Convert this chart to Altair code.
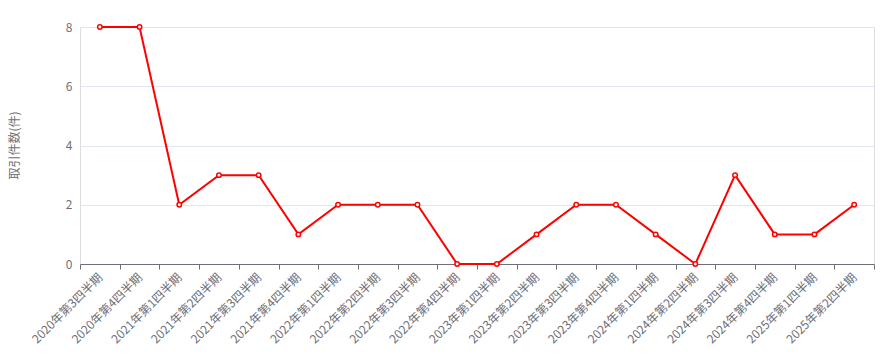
import altair as alt
import pandas as pd

quarters = [
    "2020年第3四半期", "2020年第4四半期",
    "2021年第1四半期", "2021年第2四半期", "2021年第3四半期", "2021年第4四半期",
    "2022年第1四半期", "2022年第2四半期", "2022年第3四半期", "2022年第4四半期",
    "2023年第1四半期", "2023年第2四半期", "2023年第3四半期", "2023年第4四半期",
    "2024年第1四半期", "2024年第2四半期", "2024年第3四半期", "2024年第4四半期",
    "2025年第1四半期", "2025年第2四半期",
]
counts = [8, 8, 2, 3, 3, 1, 2, 2, 2, 0, 0, 1, 2, 2, 1, 0, 3, 1, 1, 2]

df = pd.DataFrame({"quarter": quarters, "count": counts})

FONT = "Noto Sans CJK JP"
GRAY = "#6E7079"
RED = "#FF0000"

x = alt.X(
    "quarter:N",
    sort=None,
    scale=alt.Scale(paddingInner=0, paddingOuter=0),
    axis=alt.Axis(
        title=None,
        tickBand="extent",
        labelAngle=-45,
        labelAlign="right",
        labelBaseline="middle",
        labelPadding=6,
        labelOverlap=False,
        labelBound=False,
        labelColor=GRAY,
        labelFontSize=12,
        labelFont=FONT,
        domainColor=GRAY,
        tickColor=GRAY,
        tickSize=5,
        grid=False,
    ),
)
y = alt.Y(
    "count:Q",
    scale=alt.Scale(domain=[0, 8], nice=False),
    axis=alt.Axis(
        title="取引件数(件)",
        values=[0, 2, 4, 6, 8],
        domain=False,
        ticks=False,
        labelColor=GRAY,
        labelFontSize=12,
        labelFont=FONT,
        labelPadding=8,
        gridColor="#E0E6F1",
        titleColor=GRAY,
        titleFontSize=12,
        titleFontWeight="normal",
        titleFont=FONT,
        titleAngle=270,
        titleX=-66,
        titleY=118,
        titleAlign="center",
        titleBaseline="middle",
    ),
)

base = alt.Chart(df).encode(x=x, y=y)
line = base.mark_line(color=RED, strokeWidth=2)
points = base.mark_point(
    shape="circle", size=20, filled=True, fill="white", stroke=RED, strokeWidth=1.5, opacity=1
)

chart = (
    (line + points)
    .properties(
        width=794,
        height=237,
        autosize=alt.AutoSizeParams(type="none"),
        padding={"left": 80, "top": 27, "right": 16, "bottom": 91},
    )
    .configure_view(stroke=None)
    .configure(background="white")
)

chart.save("out.html", embed_options={"renderer": "svg", "actions": False})
